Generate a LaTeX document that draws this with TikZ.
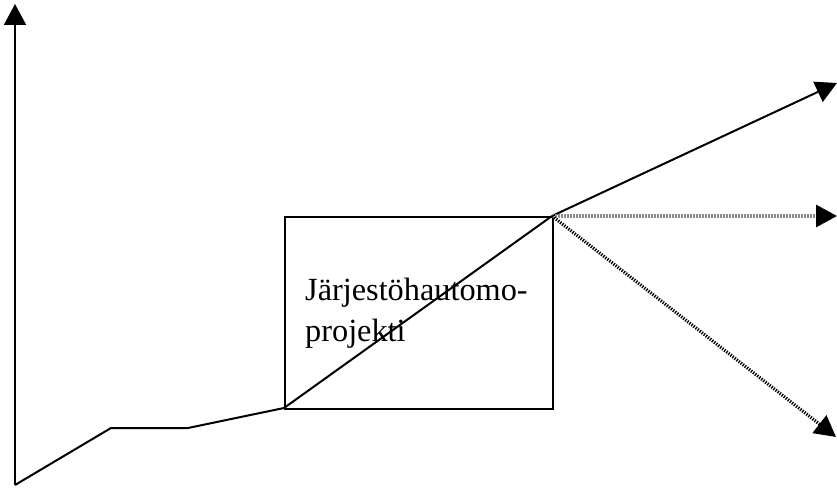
\documentclass[tikz,border=0pt]{standalone}
\usepackage{fontspec}
\setmainfont{Liberation Serif}
\usetikzlibrary{arrows.meta}
\begin{document}
\begin{tikzpicture}[x=1pt,y=-1pt,
  line/.style={line width=2pt,line join=miter},
  tip/.style={-{Triangle[length=21pt,width=22pt,color=black]}},
  greydots/.style={line width=3.2pt,draw=black!45,dash pattern=on 2pt off 1pt},
  blackdots/.style={line width=3.2pt,draw=black,dash pattern=on 1.3pt off 1.3pt},
  label/.style={inner sep=0pt,align=left,font=\fontsize{32.3}{41}\selectfont}]
  \useasboundingbox (0,0) rectangle (837,489);
  % axis and curve points
  \coordinate (origin) at (15,485);
  \coordinate (axistop) at (15,4);
  \coordinate (k1) at (111,428);
  \coordinate (k2) at (188,428);
  \coordinate (start) at (284,408);
  \coordinate (finish) at (552,216);
  \coordinate (up) at (837,83);
  \coordinate (flat) at (837,216);
  \coordinate (down) at (836,437);
  % project box
  \node[draw,line width=1.6pt,minimum width=268pt,minimum height=192pt,anchor=north west,inner sep=0pt] (box) at (284,216) {};
  \node[label,anchor=base west] (txt) at (305,341) {Järjestöhautomo-\\projekti};
  % vertical axis
  \draw[line,tip] (origin) -- (axistop);
  % growth path
  \draw[line] (origin) -- (k1) -- (k2) -- (start) -- (finish);
  % scenarios
  \draw[line,tip] (finish) -- (up);
  \draw[greydots,tip] (finish) -- (flat);
  \draw[blackdots,tip] (finish) -- (down);
\end{tikzpicture}
\end{document}
